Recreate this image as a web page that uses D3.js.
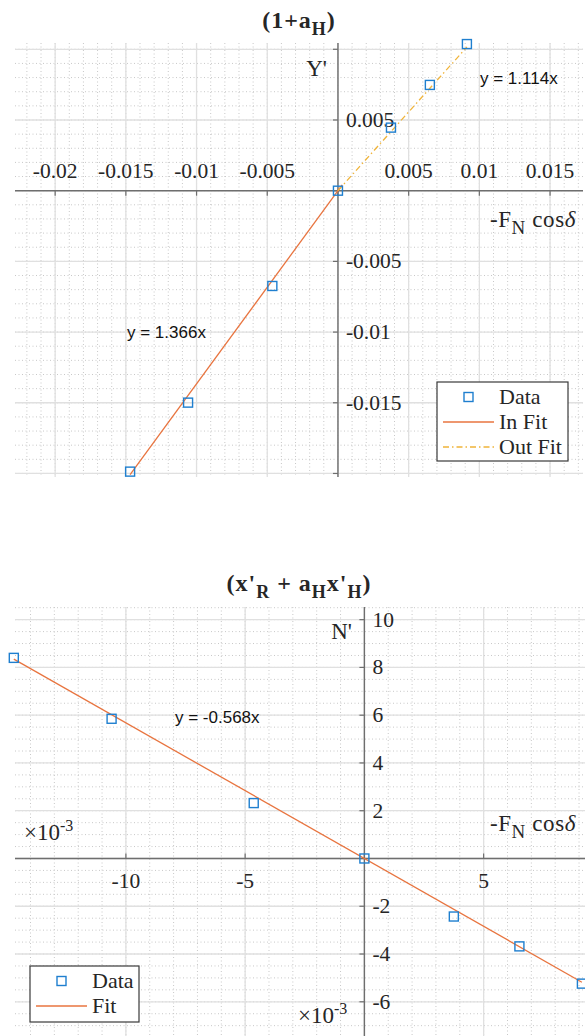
<!DOCTYPE html>
<html>
<head>
<meta charset="utf-8">
<script src="https://cdn.jsdelivr.net/npm/d3@7"></script>
<style>
    body { margin: 0; background: #fff; }
    svg { display: block; }
    .serif { font-family: 'Liberation Serif', 'Times New Roman', serif; fill: #262626; }
    .sans { font-family: 'Liberation Sans', Arial, sans-serif; fill: #111; }
</style>
</head>
<body>
<svg id="chart" width="585" height="1036"></svg>
<script>
// Data
const xData = [-0.0147, -0.0106, -0.00464, 0, 0.00375, 0.0065, 0.00912];
const yData = [-0.01987, -0.01499, -0.00674, 0, 0.00446, 0.00748, 0.01037];
const nData = [0.0084, 0.00585, 0.00232, 0, -0.00243, -0.00368, -0.00524];

// fitted slopes
const inSlope = 1.366;
const outSlope = 1.114;
const nSlope = -0.568;

// Ticks
const topXTicks = [-0.02, -0.015, -0.01, -0.005, 0, 0.005, 0.01, 0.015];
const topXLabels = ['-0.02', '-0.015', '-0.01', '-0.005', '', '0.005', '0.01', '0.015'];
const topYTicks = [-0.02, -0.015, -0.01, -0.005, 0, 0.005, 0.01];
const topYLabels = ['', '-0.015', '-0.01', '-0.005', '', '0.005', ''];
const botXTicks = [-0.01, -0.005, 0, 0.005];
const botXLabels = ['-10', '-5', '', '5'];
const botYTicks = [-0.006, -0.004, -0.002, 0, 0.002, 0.004, 0.006, 0.008, 0.01];
const botYLabels = ['-6', '-4', '-2', '', '2', '4', '6', '8', '10'];

const blue = '#1f7fcf';
const orange = '#e8743f';
const yellow = '#f0b43a';

const svg = d3.select('#chart');

// Scales
let xTop = d3.scaleLinear().domain([-0.02284, 0.01733]).range([15, 583]);
let yTop = d3.scaleLinear().domain([-0.02025, 0.010445]).range([477, 43]);
let xBot = d3.scaleLinear().domain([-0.01465, 0.00925]).range([15, 585]);
let yBot = d3.scaleLinear().domain([-0.0076, 0.01053]).range([1040, 607]);

// draw grid, axes and tick labels for one panel
function drawFrame(x, y, opt) {
    let g = svg.append('g');
    let [x0, x1] = x.range();
    let [y1, y0] = y.range();

    // minor grid
    let xm = d3.range(Math.ceil(x.domain()[0] / opt.xMinor), Math.floor(x.domain()[1] / opt.xMinor) + 1).map((k) => k * opt.xMinor);
    let ym = d3.range(Math.ceil(y.domain()[0] / opt.yMinor), Math.floor(y.domain()[1] / opt.yMinor) + 1).map((k) => k * opt.yMinor);
    g.selectAll('.vm').data(xm).join('line')
        .attr('x1', (d) => x(d)).attr('x2', (d) => x(d))
        .attr('y1', y0).attr('y2', y1)
        .attr('stroke', '#c8c8c8').attr('stroke-width', 1).attr('stroke-dasharray', '1,2.5');
    g.selectAll('.hm').data(ym).join('line')
        .attr('y1', (d) => y(d)).attr('y2', (d) => y(d))
        .attr('x1', x0).attr('x2', x1)
        .attr('stroke', '#c8c8c8').attr('stroke-width', 1).attr('stroke-dasharray', '1,2.5');

    // major grid
    g.selectAll('.vg').data(opt.xTicks).join('line')
        .attr('x1', (d) => x(d)).attr('x2', (d) => x(d))
        .attr('y1', y0).attr('y2', y1)
        .attr('stroke', '#e0e0e0').attr('stroke-width', 1.3);
    g.selectAll('.hg').data(opt.yTicks).join('line')
        .attr('y1', (d) => y(d)).attr('y2', (d) => y(d))
        .attr('x1', x0).attr('x2', x1)
        .attr('stroke', '#e0e0e0').attr('stroke-width', 1.3);

    // axes through origin
    g.append('line').attr('x1', x0).attr('x2', x1).attr('y1', y(0)).attr('y2', y(0))
        .attr('stroke', '#6e6e6e').attr('stroke-width', 1.4);
    g.append('line').attr('x1', x(0)).attr('x2', x(0)).attr('y1', y0).attr('y2', y1)
        .attr('stroke', '#6e6e6e').attr('stroke-width', 1.4);

    // tick marks
    g.selectAll('.xt').data(opt.xTicks).join('line')
        .attr('x1', (d) => x(d)).attr('x2', (d) => x(d))
        .attr('y1', y(0)).attr('y2', y(0) + opt.xTickDir * 5)
        .attr('stroke', '#6e6e6e').attr('stroke-width', 1.2);
    g.selectAll('.yt').data(opt.yTicks).join('line')
        .attr('y1', (d) => y(d)).attr('y2', (d) => y(d))
        .attr('x1', x(0)).attr('x2', x(0) - 5)
        .attr('stroke', '#6e6e6e').attr('stroke-width', 1.2);

    // tick labels
    g.selectAll('.xl').data(opt.xTicks).join('text')
        .attr('class', 'serif')
        .attr('x', (d) => x(d))
        .attr('y', y(0) + opt.xLabelDy)
        .attr('text-anchor', 'middle')
        .attr('font-size', 21.5)
        .text((d, i) => opt.xLabels[i]);
    g.selectAll('.yl').data(opt.yTicks).join('text')
        .attr('class', 'serif')
        .attr('x', x(0) + 8)
        .attr('y', (d) => y(d) + 7)
        .attr('font-size', 21.5)
        .text((d, i) => opt.yLabels[i]);
    return g;
}

function addSub(text, parts, size, subSize) {
    // parts: [string, 'sub'|'sup'|null]
    let shift = 0;
    parts.forEach(([s, kind]) => {
        let target = kind === 'sub' ? 7 : kind === 'sup' ? -9 : 0;
        text.append('tspan')
            .attr('dy', target - shift)
            .attr('font-size', kind ? subSize : size)
            .attr('font-style', s === 'δ' ? 'italic' : null)
            .text(s);
        shift = target;
    });
}

function drawLegend(x, y, w, h, items) {
    let g = svg.append('g');
    g.append('rect').attr('x', x).attr('y', y).attr('width', w).attr('height', h)
        .attr('fill', '#fff').attr('stroke', '#3a3a3a').attr('stroke-width', 1.2);
    items.forEach((it, i) => {
        let cy = y + 15 + i * 25;
        if (it.type === 'marker') {
            g.append('rect').attr('x', x + 27).attr('y', cy - 4.5).attr('width', 9).attr('height', 9)
                .attr('fill', 'none').attr('stroke', blue).attr('stroke-width', 1.4);
        } else {
            g.append('line').attr('x1', x + 6).attr('x2', x + 57).attr('y1', cy).attr('y2', cy)
                .attr('stroke', it.color).attr('stroke-width', 1.3)
                .attr('stroke-dasharray', it.dash);
        }
        g.append('text').attr('class', 'serif').attr('x', x + 62).attr('y', cy + 7)
            .attr('font-size', 22).text(it.label);
    });
}

// ---------- Top panel: (1+a_H) ----------
drawFrame(xTop, yTop, {
    xTicks: topXTicks, xLabels: topXLabels, yTicks: topYTicks, yLabels: topYLabels,
    xMinor: 0.001, yMinor: 0.001, xTickDir: 1, xLabelDy: -13
});

let t1 = svg.append('text').attr('class', 'serif').attr('x', 299).attr('y', 28)
    .attr('text-anchor', 'middle').attr('font-weight', 'bold').attr('fill', '#000')
    .attr('letter-spacing', 1);
addSub(t1, [['(1+a', null], ['H', 'sub'], [')', null]], 24, 18);

svg.append('text').attr('class', 'serif').attr('x', 327).attr('y', 76)
    .attr('text-anchor', 'end').attr('font-size', 23).text("Y'");
let xl1 = svg.append('text').attr('class', 'serif').attr('x', 576).attr('y', 227)
    .attr('text-anchor', 'end').attr('letter-spacing', 0.6);
addSub(xl1, [['-F', null], ['N', 'sub'], [' cos', null], ['δ', null]], 23, 19);

// fit lines
let inX = xData.filter((d) => d <= 0);
let outX = xData.filter((d) => d >= 0);
svg.append('line')
    .attr('x1', xTop(d3.min(inX))).attr('y1', yTop(inSlope * d3.min(inX)))
    .attr('x2', xTop(0.0003)).attr('y2', yTop(inSlope * 0.0003))
    .attr('stroke', orange).attr('stroke-width', 1.3);
svg.append('line')
    .attr('x1', xTop(0)).attr('y1', yTop(0))
    .attr('x2', xTop(d3.max(outX))).attr('y2', yTop(outSlope * d3.max(outX)))
    .attr('stroke', yellow).attr('stroke-width', 1.3).attr('stroke-dasharray', '6,3,1.5,3');

svg.selectAll('.mTop').data(xData).join('rect')
    .attr('x', (d) => xTop(d) - 4.5)
    .attr('y', (d, i) => yTop(yData[i]) - 4.5)
    .attr('width', 9).attr('height', 9)
    .attr('fill', 'none').attr('stroke', blue).attr('stroke-width', 1.4);

svg.append('text').attr('class', 'sans').attr('x', 480).attr('y', 84)
    .attr('font-size', 17).text('y = 1.114x');
svg.append('text').attr('class', 'sans').attr('x', 127).attr('y', 338)
    .attr('font-size', 17).text('y = 1.366x');

drawLegend(437, 382, 131, 79, [
    { type: 'marker', label: 'Data' },
    { type: 'line', label: 'In Fit', color: orange, dash: null },
    { type: 'line', label: 'Out Fit', color: yellow, dash: '6,3,1.5,3' }
]);

// ---------- Bottom panel: (x'_R + a_H x'_H) ----------
drawFrame(xBot, yBot, {
    xTicks: botXTicks, xLabels: botXLabels, yTicks: botYTicks, yLabels: botYLabels,
    xMinor: 0.001, yMinor: 0.0005, xTickDir: -1, xLabelDy: 30
});

let t2 = svg.append('text').attr('class', 'serif').attr('x', 299).attr('y', 591)
    .attr('text-anchor', 'middle').attr('font-weight', 'bold').attr('fill', '#000')
    .attr('letter-spacing', 1);
addSub(t2, [["(x'", null], ['R', 'sub'], [' + a', null], ['H', 'sub'], ["x'", null], ['H', 'sub'], [')', null]], 24, 18);

svg.append('text').attr('class', 'serif').attr('x', 352).attr('y', 639)
    .attr('text-anchor', 'end').attr('font-size', 23).text("N'");
let xl2 = svg.append('text').attr('class', 'serif').attr('x', 576).attr('y', 831)
    .attr('text-anchor', 'end').attr('letter-spacing', 0.6);
addSub(xl2, [['-F', null], ['N', 'sub'], [' cos', null], ['δ', null]], 23, 19);

let e1 = svg.append('text').attr('class', 'serif').attr('x', 24).attr('y', 840);
addSub(e1, [['×10', null], ['-3', 'sup']], 23, 16);
let e2 = svg.append('text').attr('class', 'serif').attr('x', 298).attr('y', 1023);
addSub(e2, [['×10', null], ['-3', 'sup']], 23, 16);

svg.append('line')
    .attr('x1', xBot(d3.min(xData))).attr('y1', yBot(nSlope * d3.min(xData)))
    .attr('x2', xBot(d3.max(xData))).attr('y2', yBot(nSlope * d3.max(xData)))
    .attr('stroke', orange).attr('stroke-width', 1.3);

svg.selectAll('.mBot').data(xData).join('rect')
    .attr('x', (d) => xBot(d) - 4.5)
    .attr('y', (d, i) => yBot(nData[i]) - 4.5)
    .attr('width', 9).attr('height', 9)
    .attr('fill', 'none').attr('stroke', blue).attr('stroke-width', 1.4);

svg.append('text').attr('class', 'sans').attr('x', 175).attr('y', 723)
    .attr('font-size', 17).text('y = -0.568x');

drawLegend(30, 966, 109, 56, [
    { type: 'marker', label: 'Data' },
    { type: 'line', label: 'Fit', color: orange, dash: null }
]);
</script>
</body>
</html>
